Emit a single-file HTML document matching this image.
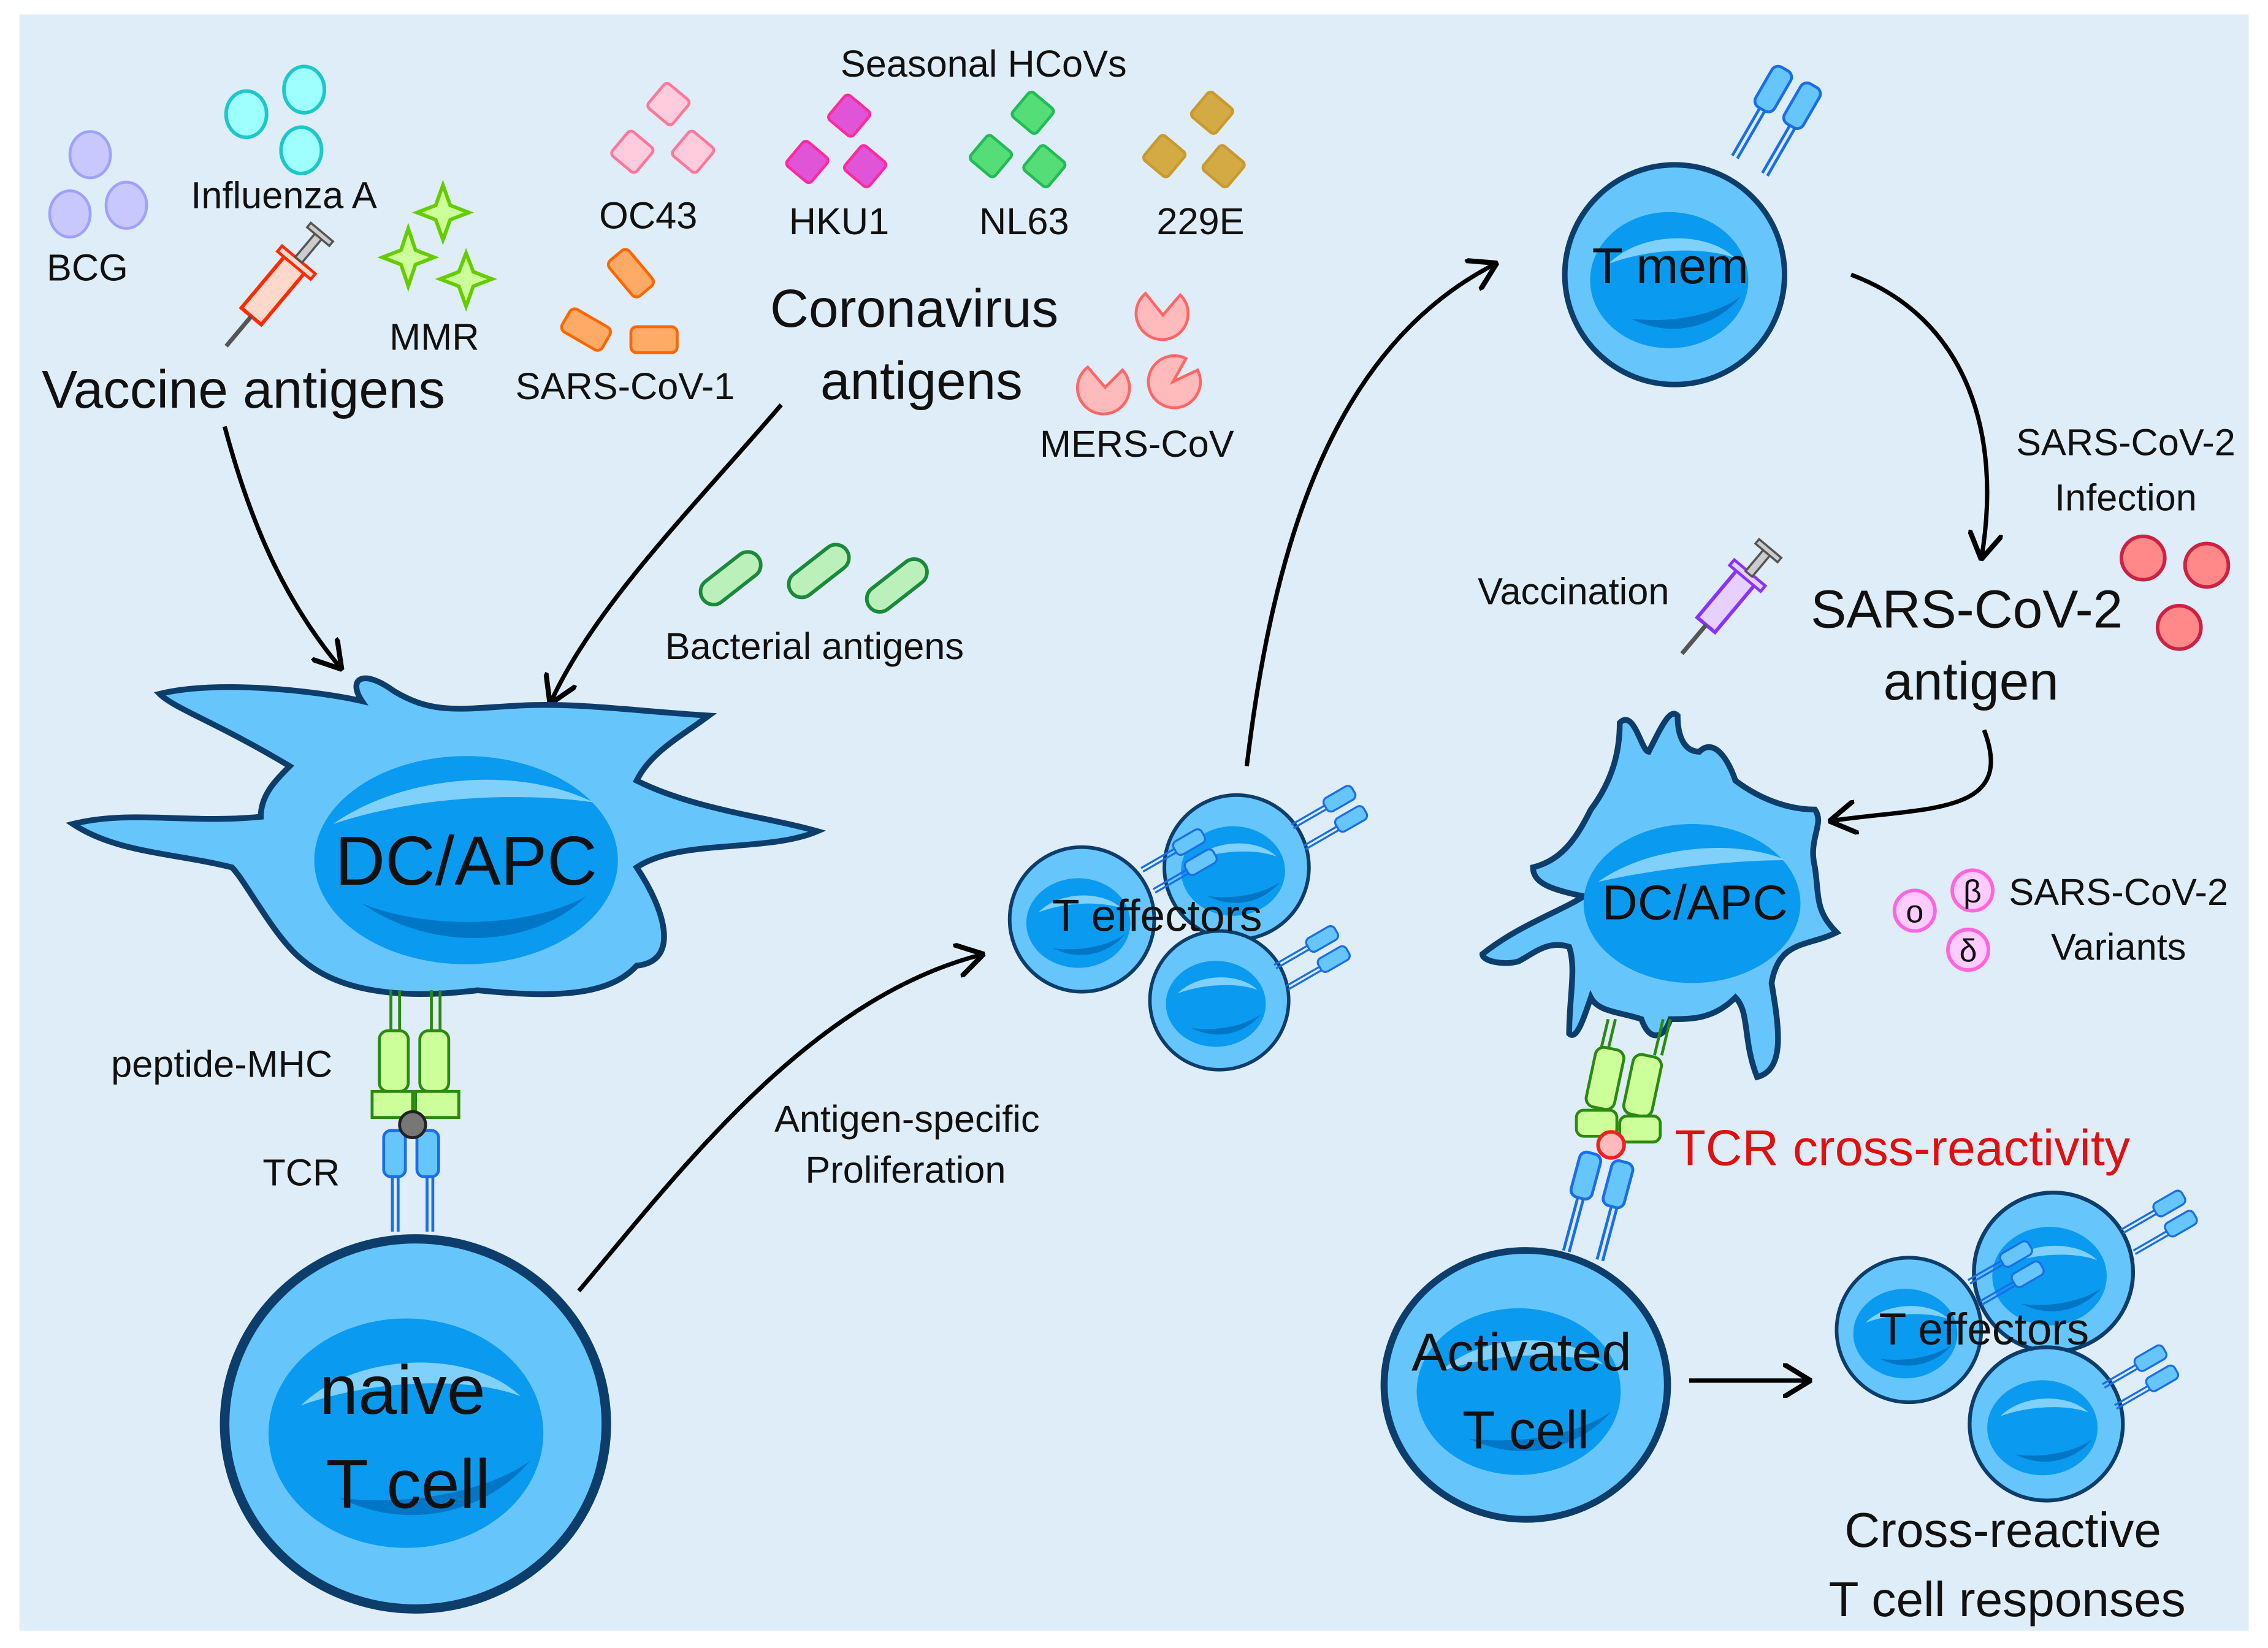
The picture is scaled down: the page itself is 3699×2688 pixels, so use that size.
<!DOCTYPE html>
<html><head><meta charset="utf-8"><style>html,body{margin:0;padding:0;background:#fff}svg{display:block}text{font-family:"Liberation Sans",sans-serif;fill:#111}</style></head>
<body>
<svg width="3699" height="2688" viewBox="0 0 1568 1140" xmlns="http://www.w3.org/2000/svg">
<defs>
<marker id="ah" viewBox="0 0 20 24" refX="19" refY="12" markerWidth="20" markerHeight="24" markerUnits="userSpaceOnUse" orient="auto"><path d="M1,1 L19,12 L1,23" fill="none" stroke="#000" stroke-width="3.5" stroke-linecap="round" stroke-linejoin="round"/></marker>
<g id="sq"><rect x="-11" y="-11" width="22" height="22" rx="3"/></g>
<g id="cell"><circle r="100" fill="#66c6fb" stroke="#0d3d6b" stroke-width="5"/><ellipse cx="-5" cy="5" rx="72" ry="62" fill="#0a9af0"/><path d="M-60,-10 C-30,-40 30,-40 55,-15 C30,-25 -20,-25 -60,-10Z" fill="#7fd0fb"/><path d="M-40,40 C0,60 40,45 60,20 C40,35 0,45 -40,40Z" fill="#0077c6"/></g>
<g id="tcr"><g fill="#66c6fb" stroke="#1a6ee8" stroke-width="2"><rect x="-20" y="-30" width="15" height="32" rx="5"/><rect x="3" y="-30" width="15" height="32" rx="5"/></g><path d="M-14,2 L-14,40 M-10,2 L-10,40 M10,2 L10,40 M14,2 L14,40" stroke="#1a6ee8" stroke-width="2"/></g>
</defs>
<rect width="1568" height="1140" fill="#fff"/>
<rect x="13" y="10" width="1542" height="1118" fill="#deedf8"/>

<g fill="#c8c8ff" stroke="#a0a0ff" stroke-width="2"><ellipse cx="62" cy="107" rx="14" ry="16"/><ellipse cx="48" cy="148" rx="14" ry="16"/><ellipse cx="87" cy="142" rx="14" ry="16"/></g>
<g fill="#9ffffe" stroke="#1cc8c8" stroke-width="2.5"><ellipse cx="170" cy="79" rx="14" ry="16"/><ellipse cx="210" cy="62" rx="14" ry="16"/><ellipse cx="208" cy="104" rx="14" ry="16"/></g>
<g fill="#ccff99" stroke="#66cc00" stroke-width="2.5">
<path d="M306,128 L311,142 L324,147 L311,152 L306,166 L301,152 L288,147 L301,142Z"/>
<path d="M282,158 L287,173 L300,178 L287,183 L282,198 L277,183 L264,178 L277,173Z"/>
<path d="M322,175 L327,188 L340,193 L327,198 L322,212 L317,198 L304,193 L317,188Z"/></g>
<g transform="translate(185,205) rotate(40)"><rect x="-9" y="-30" width="18" height="48" fill="#ffd8cc" stroke="#ff2a00" stroke-width="2.5"/><rect x="-15" y="-33" width="30" height="5" fill="#ffd8cc" stroke="#ff2a00" stroke-width="2"/><rect x="-3" y="-55" width="6" height="22" fill="#ccc" stroke="#555" stroke-width="1.5"/><rect x="-10" y="-58" width="20" height="4" fill="#ccc" stroke="#555" stroke-width="1.5"/><line x1="0" y1="18" x2="0" y2="45" stroke="#555" stroke-width="3"/></g>
<g fill="#ffccdd" stroke="#ff7799" stroke-width="2"><use href="#sq" transform="translate(462,72) rotate(40)"/><use href="#sq" transform="translate(437,105) rotate(40)"/><use href="#sq" transform="translate(479,105) rotate(40)"/></g>
<g fill="#e055d8" stroke="#ff2aa0" stroke-width="2"><use href="#sq" transform="translate(587,80) rotate(40)"/><use href="#sq" transform="translate(558,112) rotate(40)"/><use href="#sq" transform="translate(598,115) rotate(40)"/></g>
<g fill="#55dd77" stroke="#22bb55" stroke-width="2"><use href="#sq" transform="translate(714,78) rotate(40)"/><use href="#sq" transform="translate(685,108) rotate(40)"/><use href="#sq" transform="translate(722,115) rotate(40)"/></g>
<g fill="#d4aa44" stroke="#c89a30" stroke-width="2"><use href="#sq" transform="translate(838,78) rotate(40)"/><use href="#sq" transform="translate(805,108) rotate(40)"/><use href="#sq" transform="translate(846,115) rotate(40)"/></g>
<g fill="#ffaa66" stroke="#ff6600" stroke-width="2"><rect x="-16" y="-9" width="32" height="18" rx="4" transform="translate(436,189) rotate(50)"/><rect x="-16" y="-9" width="32" height="18" rx="4" transform="translate(405,228) rotate(30)"/><rect x="-16" y="-9" width="32" height="18" rx="4" transform="translate(452,235)"/></g>
<g fill="#ffbbbb" stroke="#ff6666" stroke-width="2"><path d="M804,218 L816,204 A18,18 0 1,1 792,203Z"/><path d="M764,268 L776,256 A18,18 0 1,1 752,254Z"/><path d="M811,264 L828,256 A18,18 0 1,1 820,248Z"/></g>
<g fill="#bbf0bb" stroke="#1a8a3a" stroke-width="2.5">
<rect x="-24" y="-9" width="48" height="18" rx="9" transform="translate(505,400) rotate(-38)"/>
<rect x="-24" y="-9" width="48" height="18" rx="9" transform="translate(566,395) rotate(-38)"/>
<rect x="-24" y="-9" width="48" height="18" rx="9" transform="translate(620,405) rotate(-38)"/></g>
<g fill="#ff8888" stroke="#cc2244" stroke-width="2.5"><circle cx="1482" cy="386" r="15"/><circle cx="1526" cy="391" r="15"/><circle cx="1507" cy="434" r="15"/></g>
<g fill="#ffccff" stroke="#ff66dd" stroke-width="2.5"><circle cx="1324" cy="630" r="14"/><circle cx="1364" cy="616" r="14"/><circle cx="1361" cy="657" r="14"/></g>
<g font-size="22" text-anchor="middle"><text x="1324" y="638">o</text><text x="1364" y="624">β</text><text x="1361" y="665">δ</text></g>
<g transform="translate(1190,420) rotate(40)"><rect x="-8" y="-28" width="16" height="44" fill="#e5d0ff" stroke="#8833ff" stroke-width="2.5"/><rect x="-14" y="-31" width="28" height="5" fill="#e5d0ff" stroke="#8833ff" stroke-width="2"/><rect x="-3" y="-50" width="6" height="20" fill="#ccc" stroke="#555" stroke-width="1.5"/><rect x="-10" y="-53" width="20" height="4" fill="#ccc" stroke="#555" stroke-width="1.5"/><line x1="0" y1="16" x2="0" y2="42" stroke="#555" stroke-width="3"/></g>

<g fill="none" stroke="#000" stroke-width="3" marker-end="url(#ah)">
<path d="M155 295 C 175 370 200 420 236 463"/>
<path d="M540 280 C 480 350 410 420 380 487"/>
<path d="M400 893 C 470 810 560 690 680 660"/>
<path d="M862 530 C 880 380 920 240 1035 182"/>
<path d="M1280 190 C 1360 220 1385 300 1370 387"/>
<path d="M1372 505 C 1395 565 1330 558 1265 568"/>
<path d="M1168 955 L 1252 955"/>
</g>

<path d="M200 530 C 150 500 120 490 110 480 C 150 470 220 478 250 485 C 240 470 250 462 272 478 C 300 495 320 490 360 488 C 400 486 440 492 490 495 C 470 510 450 520 440 540 C 480 560 530 565 565 575 C 530 590 470 580 440 600 C 460 630 470 665 440 668 C 420 690 380 690 330 685 C 290 690 240 690 210 665 C 190 650 170 610 160 600 C 120 590 80 590 50 570 C 90 560 130 570 180 565 C 180 550 190 540 200 530 Z" fill="#66c6fb" stroke="#0d3d6b" stroke-width="4"/>
<ellipse cx="322" cy="595" rx="105" ry="72" fill="#0a9af0"/>
<path d="M230 570 C 280 535 360 530 410 555 C 360 548 290 550 230 570Z" fill="#7fd0fb"/>
<path d="M250 625 C 300 660 370 655 405 620 C 370 640 300 645 250 625Z" fill="#0077c6"/>
<g fill="#ccff99" stroke="#2a8a10" stroke-width="2"><rect x="262" y="713" width="20" height="42" rx="6"/><rect x="290" y="713" width="20" height="42" rx="6"/><path d="M257 755 h28 v18 h-28z"/><path d="M287 755 h30 v18 h-30z"/></g>
<path d="M270 685 v28 M276 685 v28 M298 685 v28 M304 685 v28" stroke="#2a8a10" stroke-width="2"/>
<g transform="translate(285,812)"><use href="#tcr"/></g>
<circle cx="285" cy="778" r="9" fill="#777" stroke="#222" stroke-width="2"/>
<g transform="translate(287,985) scale(1.32,1.28)"><use href="#cell"/></g>

<g transform="translate(855,600) scale(0.5)"><use href="#cell"/></g>
<g transform="translate(843,692) scale(0.48)"><use href="#cell"/></g>
<g transform="translate(748,636) scale(0.5)"><use href="#cell"/></g>
<g transform="translate(922,565) rotate(60) scale(0.7)"><use href="#tcr"/></g>
<g transform="translate(910,662) rotate(60) scale(0.7)"><use href="#tcr"/></g>
<g transform="translate(818,595) rotate(60) scale(0.7)"><use href="#tcr"/></g>
<g transform="translate(1230,80) rotate(30)"><use href="#tcr"/></g>
<g transform="translate(1158,190) scale(0.76)"><use href="#cell"/></g>
<path d="M1100 560 C 1115 540 1120 520 1120 500 C 1130 490 1135 520 1140 520 C 1150 500 1155 490 1160 495 C 1160 510 1165 520 1175 520 C 1185 510 1195 525 1200 540 C 1220 555 1240 560 1255 560 C 1262 570 1250 580 1255 600 C 1258 620 1255 630 1270 645 C 1250 655 1230 650 1225 680 C 1230 710 1235 740 1215 745 C 1205 720 1210 700 1200 690 C 1185 705 1170 705 1155 705 C 1150 720 1140 720 1135 705 C 1120 700 1105 700 1100 690 C 1095 705 1090 720 1085 715 C 1085 690 1090 670 1085 655 C 1070 650 1060 660 1050 665 C 1040 668 1025 665 1025 660 C 1050 640 1080 630 1095 620 C 1070 615 1060 610 1060 600 C 1080 595 1090 580 1100 560 Z" fill="#66c6fb" stroke="#0d3d6b" stroke-width="4"/>
<ellipse cx="1170" cy="625" rx="75" ry="55" fill="#0a9af0"/>
<path d="M1105 610 C 1140 585 1200 580 1235 595 C 1200 595 1150 600 1105 610Z" fill="#7fd0fb"/>
<path d="M1112 705 l-6 25 M1117 705 l-6 25 M1150 705 l-6 25 M1155 705 l-6 25" stroke="#2a8a10" stroke-width="2"/>
<g fill="#ccff99" stroke="#2a8a10" stroke-width="2"><rect x="1100" y="725" width="20" height="42" rx="6" transform="rotate(12 1110 745)"/><rect x="1126" y="730" width="20" height="42" rx="6" transform="rotate(12 1136 750)"/><rect x="1090" y="768" width="28" height="18" rx="5"/><rect x="1120" y="772" width="28" height="18" rx="5"/></g>
<g transform="translate(1105,830) rotate(15)"><use href="#tcr"/></g>
<circle cx="1114" cy="792" r="9" fill="#ffbbbb" stroke="#ee2222" stroke-width="2.5"/>
<g transform="translate(1055,958) scale(0.98,0.93)"><use href="#cell"/></g>
<g transform="translate(1420,880) scale(0.55)"><use href="#cell"/></g>
<g transform="translate(1415,985) scale(0.53)"><use href="#cell"/></g>
<g transform="translate(1320,920) scale(0.5)"><use href="#cell"/></g>
<g transform="translate(1496,845) rotate(60) scale(0.7)"><use href="#tcr"/></g>
<g transform="translate(1483,952) rotate(60) scale(0.7)"><use href="#tcr"/></g>
<g transform="translate(1390,880) rotate(60) scale(0.7)"><use href="#tcr"/></g>

<g text-anchor="middle" font-size="26">
<text x="680" y="53">Seasonal HCoVs</text>
<text x="196" y="144">Influenza A</text>
<text x="60" y="194">BCG</text>
<text x="300" y="242">MMR</text>
<text x="448" y="158">OC43</text><text x="580" y="162">HKU1</text><text x="708" y="162">NL63</text><text x="830" y="162">229E</text>
<text x="432" y="276">SARS-CoV-1</text>
<text x="786" y="316">MERS-CoV</text>
<text x="563" y="456">Bacterial antigens</text>
<text x="153" y="745">peptide-MHC</text>
<text x="208" y="820">TCR</text>
<text x="627" y="783">Antigen-specific</text><text x="626" y="818">Proliferation</text>
<text x="1470" y="315">SARS-CoV-2</text><text x="1470" y="353">Infection</text>
<text x="1088" y="418">Vaccination</text>
<text x="1465" y="626">SARS-CoV-2</text><text x="1465" y="664">Variants</text>
</g>
<g text-anchor="middle" font-size="37">
<text x="168" y="282">Vaccine antigens</text>
<text x="632" y="226">Coronavirus</text><text x="637" y="276">antigens</text>
<text x="1360" y="434">SARS-CoV-2</text><text x="1363" y="484">antigen</text>
</g>
<g text-anchor="middle" font-size="34">
<text x="1385" y="1070">Cross-reactive</text><text x="1388" y="1118">T cell responses</text>
</g>
<text x="1158" y="806" font-size="35" style="fill:#e01010">TCR cross-reactivity</text>
<g text-anchor="middle">
<text x="322" y="612" font-size="48">DC/APC</text>
<text x="278" y="978" font-size="48">naive</text>
<text x="282" y="1043" font-size="48">T cell</text>
<text x="800" y="644" font-size="31">T effectors</text>
<text x="1155" y="196" font-size="35">T mem</text>
<text x="1172" y="636" font-size="34">DC/APC</text>
<text x="1052" y="948" font-size="37">Activated</text>
<text x="1055" y="1002" font-size="37">T cell</text>
<text x="1372" y="930" font-size="31">T effectors</text>
</g>
</svg>
</body></html>
